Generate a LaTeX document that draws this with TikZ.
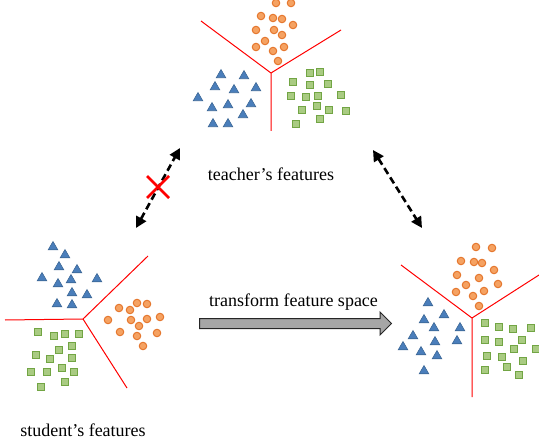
\documentclass[tikz,border=0pt]{standalone}
\usepackage{fontspec}
\setmainfont{Liberation Serif}
\usepackage{tikz}
\usetikzlibrary{arrows.meta,shapes.geometric,shapes.arrows}
\definecolor{triblue}{HTML}{4A7EBB}
\definecolor{triedge}{HTML}{3C6796}
\definecolor{dotorange}{HTML}{F5A262}
\definecolor{dotedge}{HTML}{E5772E}
\definecolor{boxgreen}{HTML}{A9CB82}
\definecolor{boxedge}{HTML}{72A544}
\tikzset{
	tri/.style={regular polygon, regular polygon sides=3, fill=triblue, draw=triedge, line width=0.6pt, minimum size=11pt, inner sep=0pt},
	dot/.style={circle, fill=dotorange, draw=dotedge, line width=1pt, minimum size=7.5pt, inner sep=0pt},
	box/.style={rectangle, fill=boxgreen, draw=boxedge, line width=1pt, minimum size=7.5pt, inner sep=0pt},
	kd/.style={dash pattern=on 7pt off 4pt, line width=2.6pt, {Triangle[length=11pt,width=11pt]}-{Triangle[length=11pt,width=11pt]}},
	lbl/.style={font=\fontsize{18}{22}\selectfont, anchor=base, inner sep=0pt},
}
% decision boundaries: centre, then the three far ends
\def\split(#1)(#2)(#3)(#4){\draw[red, line width=1pt] (#2) -- (#1) -- (#3) (#1) -- (#4);}

\begin{document}
\begin{tikzpicture}[x=1pt, y=-1pt]
		\useasboundingbox (0,0) rectangle (539,444);
		%%%%% TEACHER %%%%%
		\split(271,73)(201,21)(341,30)(271,131)
		\foreach \x/\y [count=\i] in {276/3,291/3,261/16,273/18,282/19,293/25,256/30,274/30,282/35,265/41,256/47,284/47,273/51,278/61}
			\node[dot] (td\i) at (\x,\y) {};
		\foreach \x/\y [count=\i] in {221/75,244/76,215/87,234/90,256/88,198/98,212/108,228/105,251/104,243/115,213/124,228/124}
			\node[tri] (tt\i) at (\x,\y) {};
		\foreach \x/\y [count=\i] in {310/73,320/72,293/82,310/85,328/84,291/96,306/97,318/96,341/95,302/110,317/106,329/110,346/111,320/119,296/124}
			\node[box] (tb\i) at (\x,\y) {};
		\node[lbl] (teacher) at (271,181) {teacher’s features};
		
		%%%%% STUDENT %%%%%
		\split(83,319)(5,320)(148,256)(127,388)
		\foreach \x/\y [count=\i] in {53/247,65/255,59/267,77/270,42/278,58/284,71/280,97/279,72/293,87/295,57/304,72/305}
			\node[tri] (st\i) at (\x,\y) {};
		\foreach \x/\y [count=\i] in {119/308,137/303,147/304,130/310,108/320,131/320,147/319,160/317,139/326,120/332,157/333,137/336,143/346}
			\node[dot] (sd\i) at (\x,\y) {};
		\foreach \x/\y [count=\i] in {38/332,54/336,65/334,79/334,72/346,59/350,36/355,50/359,72/358,62/368,31/372,47/372,74/372,65/382,41/387}
			\node[box] (sb\i) at (\x,\y) {};
		\node[lbl] (student) at (83,436) {student’s features};
		
		%%%%% TRANSFORMED %%%%%
		\split(472,318)(401,265)(539,275)(472,397)
		\foreach \x/\y [count=\i] in {476/247,492/248,461/261,474/262,482/263,494/270,457/275,479/278,466/285,498/284,456/292,484/291,473/296,479/306}
			\node[dot] (rd\i) at (\x,\y) {};
		\foreach \x/\y [count=\i] in {428/303,444/315,424/320,460/328,434/328,413/336,435/342,457/341,403/347,421/352,437/356,424/371}
			\node[tri] (rt\i) at (\x,\y) {};
		\foreach \x/\y [count=\i] in {485/323,499/327,513/329,531/328,485/340,499/342,522/340,514/349,536/349,487/356,502/357,523/361,507/367,485/370,519/375}
			\node[box] (rb\i) at (\x,\y) {};
		
		%%%%% ARROWS %%%%%
		\node[single arrow, draw=black!85, fill=black!35, line width=1pt, minimum height=192pt, inner sep=4.5pt, single arrow head extend=6.5pt] (warp) at (293,323.5) {};
		\node[lbl] (warplabel) at (293.5,306) {transform feature space};
		
		\coordinate (stuTop) at (136,228);
		\coordinate (teaLeft) at (180,148);
		\coordinate (teaRight) at (373,150);
		\coordinate (newTop) at (422,228);
		\draw[kd] (stuTop) -- (teaLeft);
		\draw[kd] (teaRight) -- (newTop);
		\draw[red, line width=2.8pt] (147,176) -- (169,198) (147,198) -- (169,176);
		%%%%% END %%%%%
\end{tikzpicture}
\end{document}
